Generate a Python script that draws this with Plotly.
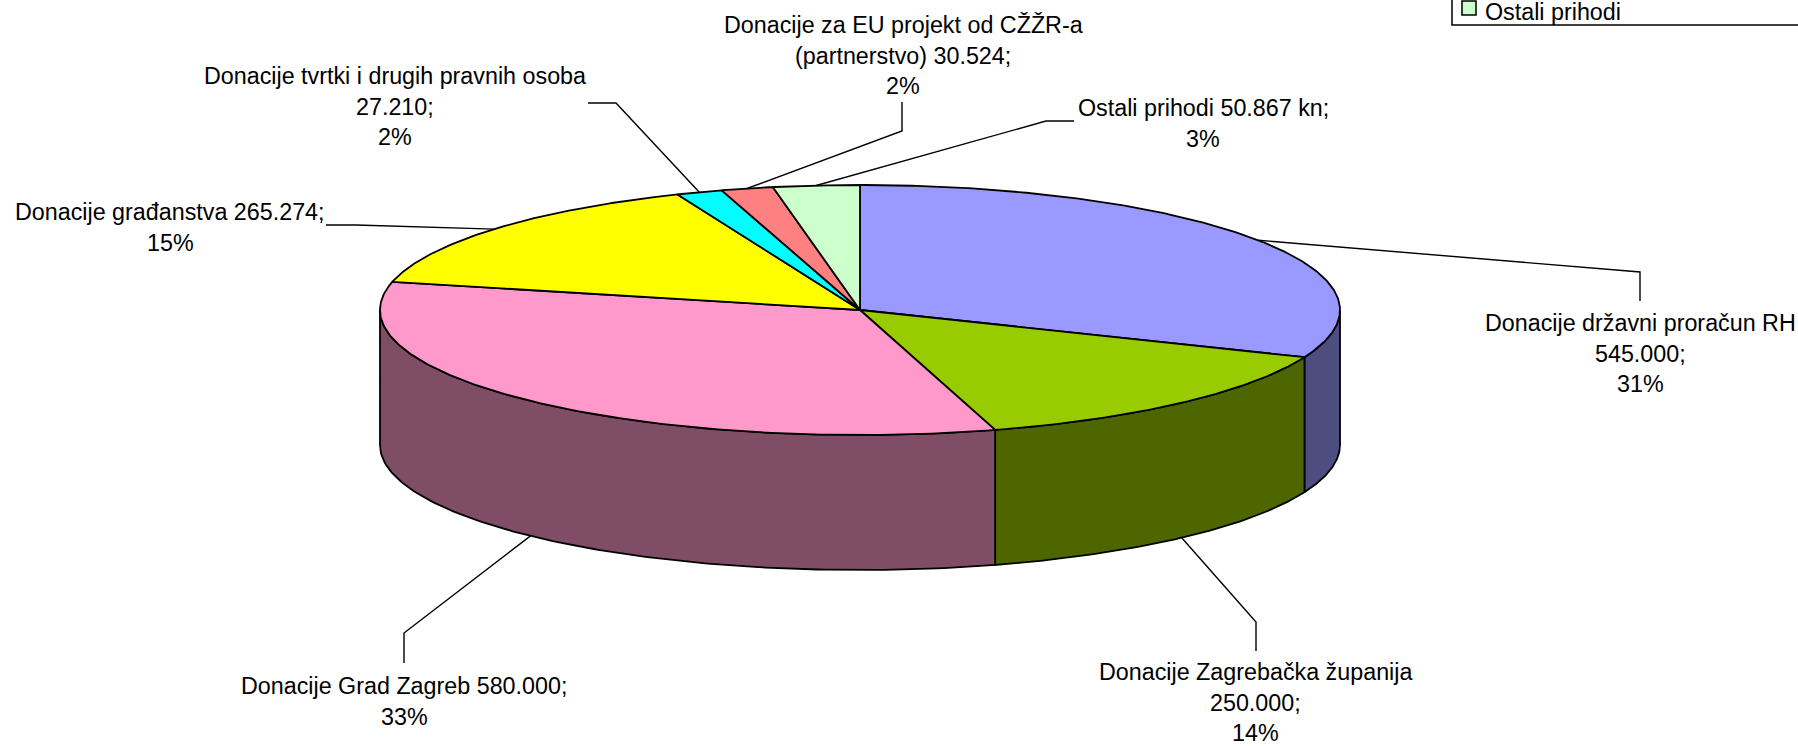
import math
import numpy as np
import plotly.graph_objects as go

# ---- data ----
CATEGORIES = ["Donacije državni proračun RH", "Donacije Zagrebačka županija", "Donacije Grad Zagreb",
              "Donacije građanstva", "Donacije tvrtki i drugih pravnih osoba",
              "Donacije za EU projekt od CŽŽR-a (partnerstvo)", "Ostali prihodi"]
VALUES = [545000, 250000, 580000, 265274, 27210, 30524, 50867]
TOP_COLORS = ["#9999FF", "#99CC00", "#FF99CC", "#FFFF00", "#00FFFF", "#FF8080", "#CCFFCC"]
SIDE_COLORS = ["#4D4D80", "#4D6600", "#804D66", "#808000", "#008080", "#804040", "#668066"]
LABEL_LINES = [
    ["Donacije državni proračun RH", "545.000;", "31%"],
    ["Donacije Zagrebačka županija", "250.000;", "14%"],
    ["Donacije Grad Zagreb 580.000;", "33%"],
    ["Donacije građanstva 265.274;", "15%"],
    ["Donacije tvrtki i drugih pravnih osoba", "27.210;", "2%"],
    ["Donacije za EU projekt od CŽŽR-a", "(partnerstvo) 30.524;", "2%"],
    ["Ostali prihodi 50.867 kn;", "3%"],
]
LEGEND_TEXT = "Ostali prihodi"

# ---- layout of the drawing (pixels of the page) ----
W, H = 1798, 746
CX, CY, RX, RY, DEPTH = 860, 310, 480, 125, 135
FONT = "Liberation Sans"
FS = 23.3
LH = 30.6
LABEL_POS = [(1640, 331), (1255, 680), (404, 694), (170, 220), (395, 84), (903, 33), (1203, 116)]
# leader bends after the slice anchor
LEADER_BENDS = [
    [(1640, 272), (1640, 301)],
    [(1256, 622), (1256, 651)],
    [(404, 633), (404, 663)],
    [(356, 225), (326, 225)],
    [(616, 103), (588, 103)],
    [(902, 131), (902, 102)],
    [(1046, 121), (1074, 121)],
]
EDGE = dict(color="black", width=1.8)


def pt(theta, drop=0.0):
    return CX + RX * np.sin(theta), CY - RY * np.cos(theta) + drop


total = sum(VALUES)
edges = np.concatenate([[0], np.cumsum(VALUES)]) / total * 2 * math.pi
fig = go.Figure()

# side walls (front half only: theta between pi/2 and 3*pi/2)
for i in range(len(VALUES)):
    a, b = max(edges[i], math.pi / 2), min(edges[i + 1], 3 * math.pi / 2)
    if b <= a:
        continue
    t = np.linspace(a, b, 120)
    x1, y1 = pt(t)
    x2, y2 = pt(t[::-1], DEPTH)
    fig.add_trace(go.Scatter(x=list(x1) + list(x2) + [x1[0]], y=list(y1) + list(y2) + [y1[0]],
                             mode="lines", fill="toself", fillcolor=SIDE_COLORS[i], line=EDGE,
                             name=CATEGORIES[i], hoverinfo="skip", showlegend=False))

# top face wedges
for i in range(len(VALUES)):
    t = np.linspace(edges[i], edges[i + 1], 200)
    x, y = pt(t)
    fig.add_trace(go.Scatter(x=[CX] + list(x) + [CX], y=[CY] + list(y) + [CY],
                             mode="lines", fill="toself", fillcolor=TOP_COLORS[i], line=EDGE,
                             name=CATEGORIES[i], hoverinfo="text", text=f"{CATEGORIES[i]}: {VALUES[i]}",
                             showlegend=False))

# leader lines, starting at the middle of each slice's outer edge
for i in range(len(VALUES)):
    mid = (edges[i] + edges[i + 1]) / 2
    front = math.pi / 2 < mid < 3 * math.pi / 2
    ax, ay = pt(mid, DEPTH if front else 0)
    xs = [float(ax)] + [p[0] for p in LEADER_BENDS[i]]
    ys = [float(ay)] + [p[1] for p in LEADER_BENDS[i]]
    fig.add_trace(go.Scatter(x=xs, y=ys, mode="lines", line=dict(color="black", width=1.4),
                             hoverinfo="skip", showlegend=False))

annotations = []
for lines, (lx, ly) in zip(LABEL_LINES, LABEL_POS):
    for k, s in enumerate(lines):
        annotations.append(dict(x=lx, y=ly + k * LH - FS * 0.34, text=s, xref="x", yref="y", showarrow=False,
                                xanchor="center", yanchor="middle",
                                font=dict(family=FONT, size=FS, color="black")))
annotations.append(dict(x=1483, y=20 - FS * 0.34, text=LEGEND_TEXT, xref="x", yref="y", showarrow=False,
                        xanchor="left", yanchor="middle", font=dict(family=FONT, size=FS, color="black")))

shapes = [
    dict(type="rect", xref="x", yref="y", x0=1452, x1=1810, y0=-10, y1=25,
         line=dict(color="black", width=1.5), fillcolor="white", layer="below"),
    dict(type="rect", xref="x", yref="y", x0=1462, x1=1476, y0=1, y1=15,
         line=dict(color="black", width=1.5), fillcolor=TOP_COLORS[6]),
]

fig.update_layout(
    width=W, height=H, autosize=False, margin=dict(l=0, r=0, t=0, b=0),
    paper_bgcolor="white", plot_bgcolor="white", showlegend=False,
    xaxis=dict(range=[0, W], visible=False, fixedrange=True),
    yaxis=dict(range=[H, 0], visible=False, fixedrange=True),
    annotations=annotations, shapes=shapes,
)
fig.write_html("out.html", config=dict(displayModeBar=False),
               post_script="document.body.style.margin='0';document.body.style.overflow='hidden';")
